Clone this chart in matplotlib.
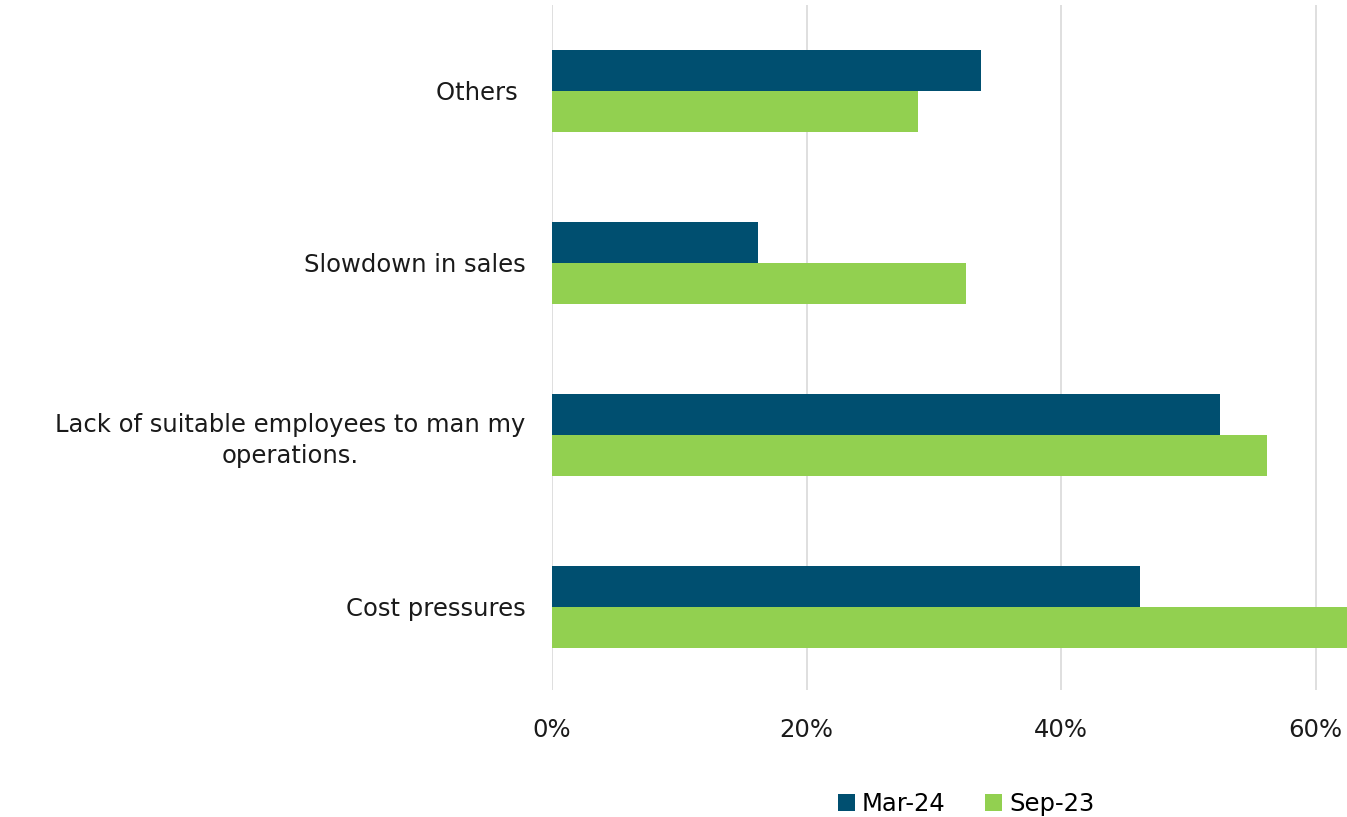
import matplotlib.pyplot as plt
import numpy as np
from matplotlib.ticker import FuncFormatter

plt.rcParams['font.family'] = ['DejaVu Sans']

# data, bottom category first
categories = ["Cost pressures",
              "Lack of suitable employees to man my\noperations.",
              "Slowdown in sales",
              "Others "]
mar24 = [46.2, 52.5, 16.2, 33.7]
sep23 = [63.0, 56.2, 32.5, 28.75]
series_names = ["Mar-24", "Sep-23"]

c_mar = "#004F70"
c_sep = "#92D050"

fig = plt.figure(figsize=(13.47, 8.17), dpi=100)
ax = fig.add_axes([552 / 1347, 1 - 690 / 817, 1 - 552 / 1347, (690 - 5) / 817])

y = np.arange(len(categories))
h = 0.238
ax.barh(y + h / 2, mar24, height=h, color=c_mar, label=series_names[0], zorder=3)
ax.barh(y - h / 2, sep23, height=h, color=c_sep, label=series_names[1], zorder=3)

ax.set_ylim(-0.484, 3.498)
ax.set_xlim(0, 62.45)
ax.set_xticks([0, 20, 40, 60])
ax.xaxis.set_major_formatter(FuncFormatter(lambda v, p: f"{v:.0f}%"))
ax.set_yticks(y)
ax.set_yticklabels(categories, linespacing=1.35)
for t in ax.get_yticklabels():
    t.set_multialignment('center')

ax.grid(axis='x', color='#dcdcdc', linewidth=1.3, zorder=0)
for s in ax.spines.values():
    s.set_visible(False)
ax.tick_params(axis='both', length=0, labelsize=17.5, colors='#1a1a1a')
ax.tick_params(axis='x', pad=20)
ax.tick_params(axis='y', pad=19)

fig.legend(loc='center', bbox_to_anchor=(966 / 1347, 1 - 804 / 817), ncol=2,
           frameon=False, fontsize=17.5, handlelength=0.7, handleheight=0.7,
           handletextpad=0.3, columnspacing=1.6)

fig.savefig("out.png", dpi=100)
